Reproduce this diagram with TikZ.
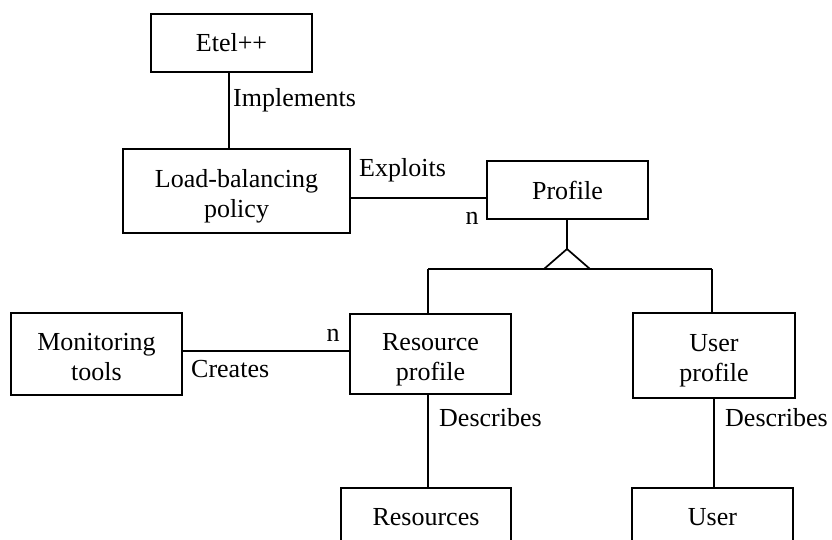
\documentclass[tikz,border=0pt]{standalone}
\usepackage{fontspec}
\setmainfont{Liberation Serif}
\begin{document}
\begin{tikzpicture}[x=1pt,y=-1pt,
  entity/.style={draw, line width=1.7pt, rectangle, inner sep=0pt, align=center,
    font=\fontsize{26}{30}\selectfont},
  twoline/.style={text height=58pt, text depth=6pt},
  rel/.style={line width=1.7pt},
  lbl/.style={inner sep=0pt, font=\fontsize{26}{30}\selectfont}]
\clip (0,0) rectangle (832,540);
\fill[white] (0,0) rectangle (832,540);

% entities
\node[entity, minimum width=161pt, minimum height=58pt] (etel) at (231.5,43) {Etel++};
\node[entity, twoline, minimum width=227pt, minimum height=84pt] (lb) at (236.5,191) {Load-balancing\\policy};
\node[entity, minimum width=161pt, minimum height=58pt] (prof) at (567.5,190) {Profile};
\node[entity, twoline, minimum width=171pt, minimum height=82pt] (mon) at (96.5,354) {Monitoring\\tools};
\node[entity, twoline, minimum width=161pt, minimum height=80pt] (rp) at (430.5,354) {Resource\\profile};
\node[entity, twoline, minimum width=162pt, minimum height=85pt] (up) at (714,355.5) {User\\profile};
\node[entity, minimum width=170pt, minimum height=58pt] (res) at (426,517) {Resources};
\node[entity, minimum width=161pt, minimum height=58pt] (usr) at (712.5,517) {User};

% relations
\draw[rel] ([xshift=-2.5pt]etel.south) -- ([xshift=-2.5pt]etel.south |- lb.north);
\draw[rel] ([yshift=-7pt]lb.east) -- ([yshift=-7pt]lb.east -| prof.west);
\draw[rel] ([yshift=3pt]mon.east) -- ([yshift=3pt]mon.east -| rp.west);
\draw[rel] ([xshift=-2.5pt]rp.south) -- ([xshift=-2.5pt]rp.south |- res.north);
\draw[rel] (up.south) -- (up.south |- usr.north);

% specialisation of Profile
\coordinate (apex) at (567,249);
\coordinate (hl) at (428,269);
\coordinate (hr) at (712,269);
\draw[rel] (prof.south -| apex) -- (apex);
\draw[rel, line join=miter] (544,269) -- (apex) -- (590,269);
\draw[rel] (hl) -- (hr);
\draw[rel] (hl) -- (hl |- rp.north);
\draw[rel] (hr) -- (hr |- up.north);

% labels
\node[lbl, anchor=west] (limp) at (233,100) {Implements};
\node[lbl, anchor=west] (lexp) at (359,170) {Exploits};
\node[lbl] (ln1) at (472,218) {n};
\node[lbl] (ln2) at (333,335) {n};
\node[lbl, anchor=west] (lcre) at (191,369) {Creates};
\node[lbl, anchor=west] (ldes1) at (439,418) {Describes};
\node[lbl, anchor=west] (ldes2) at (725,418) {Describes};
\end{tikzpicture}
\end{document}
